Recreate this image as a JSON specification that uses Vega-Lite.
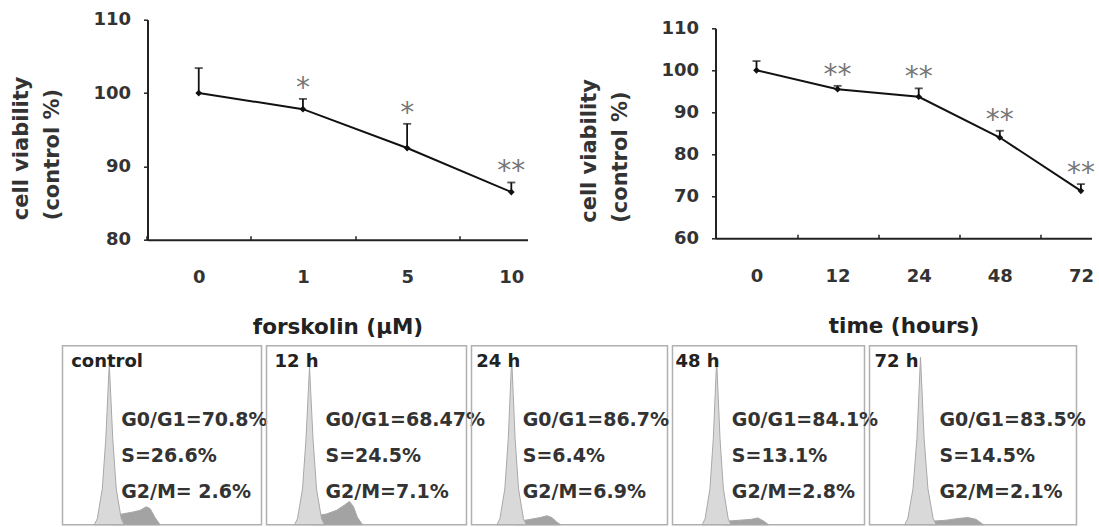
{
  "$schema": "https://vega.github.io/schema/vega-lite/v6.json",
  "background": "white",
  "padding": {"left": 9.5, "top": 9.7, "right": 0, "bottom": 0},
  "config": {"view": {"stroke": null}, "font": "DejaVu Sans"},
  "spacing": 6,
  "vconcat": [
    {
      "spacing": 0,
      "hconcat": [
        {"width": 1, "height": 1, "data": {"values": []}, "mark": "point"},
        {
          "spacing": 51,
          "hconcat": [
            {
              "spacing": 0,
              "vconcat": [
                {"width": 1, "height": 1, "data": {"values": []}, "mark": "point"},
                {
                  "width": 380,
                  "height": 220,
                  "data": {"values": [
                    {"dose": "0", "mean": 100, "upper": 103.4, "sig": ""},
                    {"dose": "1", "mean": 97.8, "upper": 99.2, "sig": "*"},
                    {"dose": "5", "mean": 92.5, "upper": 95.8, "sig": "*"},
                    {"dose": "10", "mean": 86.5, "upper": 87.8, "sig": "**"}
                  ]},
                  "encoding": {
                    "x": {"field": "dose", "type": "ordinal", "sort": null,
                      "scale": {"type": "point", "padding": 0.3235, "align": 0.76},
                      "axis": {"labelAngle": 0, "domainColor": "#222", "domainWidth": 2, "tickColor": "#222", "tickWidth": 1.5, "tickSize": -4, "tickOffset": -52.1, "labelOffset": 52.1,
                        "labelFont": "DejaVu Sans", "labelFontSize": 18, "labelFontWeight": "bold", "labelColor": "#333", "labelPadding": 33,
                        "title": "forskolin (µM)", "titleFont": "DejaVu Sans", "titleFontSize": 21.5, "titleFontWeight": "bold", "titleColor": "#222", "titlePadding": 30}},
                    "y": {"field": "mean", "type": "quantitative",
                      "scale": {"domain": [80, 110], "nice": false, "zero": false},
                      "axis": {"values": [80, 90, 100, 110], "grid": false, "domainColor": "#222", "domainWidth": 2, "tickColor": "#222", "tickWidth": 1.5, "tickSize": 4,
                        "labelFont": "DejaVu Sans", "labelFontSize": 18, "labelFontWeight": "bold", "labelColor": "#333", "labelPadding": 13,
                        "title": ["cell viability", "(control %)"], "titleFont": "DejaVu Sans", "titleFontSize": 21, "titleFontWeight": "bold", "titleColor": "#333",
                        "titleAngle": -90, "titleAlign": "left", "titleBaseline": "alphabetic", "titleX": -120, "titleY": 200, "titleLineHeight": 31}}
                  },
                  "layer": [
                    {"mark": {"type": "rule", "color": "#111", "strokeWidth": 1.8}, "encoding": {"y2": {"field": "upper"}}},
                    {"mark": {"type": "tick", "color": "#111", "size": 8, "thickness": 1.8}, "encoding": {"y": {"field": "upper", "type": "quantitative", "title": ["cell viability", "(control %)"]}}},
                    {"mark": {"type": "line", "color": "#111", "strokeWidth": 2}},
                    {"mark": {"type": "point", "shape": "diamond", "filled": true, "size": 45, "color": "#111", "opacity": 1}},
                    {"mark": {"type": "text", "font": "DejaVu Sans", "fontSize": 28, "color": "#777", "baseline": "alphabetic", "dy": -2}, "encoding": {"y": {"field": "upper", "type": "quantitative", "title": ["cell viability", "(control %)"]}, "text": {"field": "sig"}}}
                  ]
                }
              ]
            },
            {
              "spacing": 8.6,
              "vconcat": [
                {"width": 1, "height": 1, "data": {"values": []}, "mark": "point"},
                {
                  "width": 376,
                  "height": 210,
                  "data": {"values": [
                    {"time": "0", "mean": 100, "upper": 102.2, "sig": ""},
                    {"time": "12", "mean": 95.5, "upper": 96.3, "sig": "**"},
                    {"time": "24", "mean": 93.7, "upper": 95.7, "sig": "**"},
                    {"time": "48", "mean": 84.0, "upper": 85.6, "sig": "**"},
                    {"time": "72", "mean": 71.3, "upper": 72.9, "sig": "**"}
                  ]},
                  "encoding": {
                    "x": {"field": "time", "type": "ordinal", "sort": null,
                      "scale": {"type": "point", "padding": 0.318, "align": 0.795},
                      "axis": {"labelAngle": 0, "domainColor": "#222", "domainWidth": 2, "tickColor": "#222", "tickWidth": 1.5, "tickSize": -4, "tickOffset": -40.55, "labelOffset": 40.55,
                        "labelFont": "DejaVu Sans", "labelFontSize": 18, "labelFontWeight": "bold", "labelColor": "#333", "labelPadding": 33,
                        "title": "time (hours)", "titleFont": "DejaVu Sans", "titleFontSize": 21.5, "titleFontWeight": "bold", "titleColor": "#222", "titlePadding": 30}},
                    "y": {"field": "mean", "type": "quantitative",
                      "scale": {"domain": [60, 110], "nice": false, "zero": false},
                      "axis": {"values": [60, 70, 80, 90, 100, 110], "grid": false, "domainColor": "#222", "domainWidth": 2, "tickColor": "#222", "tickWidth": 1.5, "tickSize": 4,
                        "labelFont": "DejaVu Sans", "labelFontSize": 18, "labelFontWeight": "bold", "labelColor": "#333", "labelPadding": 13,
                        "title": ["cell viability", "(control %)"], "titleFont": "DejaVu Sans", "titleFontSize": 21, "titleFontWeight": "bold", "titleColor": "#333",
                        "titleAngle": -90, "titleAlign": "left", "titleBaseline": "alphabetic", "titleX": -120, "titleY": 194, "titleLineHeight": 31}}
                  },
                  "layer": [
                    {"mark": {"type": "rule", "color": "#111", "strokeWidth": 1.8}, "encoding": {"y2": {"field": "upper"}}},
                    {"mark": {"type": "tick", "color": "#111", "size": 8, "thickness": 1.8}, "encoding": {"y": {"field": "upper", "type": "quantitative", "title": ["cell viability", "(control %)"]}}},
                    {"mark": {"type": "line", "color": "#111", "strokeWidth": 2}},
                    {"mark": {"type": "point", "shape": "diamond", "filled": true, "size": 45, "color": "#111", "opacity": 1}},
                    {"mark": {"type": "text", "font": "DejaVu Sans", "fontSize": 28, "color": "#777", "baseline": "alphabetic", "dy": -2}, "encoding": {"y": {"field": "upper", "type": "quantitative", "title": ["cell viability", "(control %)"]}, "text": {"field": "sig"}}}
                  ]
                }
              ]
            }
          ]
        }
      ]
    },
    {
      "spacing": 5,
      "bounds": "flush",
      "resolve": {"scale": {"x": "independent", "y": "independent"}},
      "hconcat": [
        {"width": 48, "height": 179, "data": {"values": []}, "mark": "point"},
        {
          "width": 199, "height": 179,
          "view": {"stroke": "#b0b0b0", "strokeWidth": 1.5},
          "layer": [
            {"data": {"values": [
              {"phase": "S/G2", "ch": 50, "count": 0}, {"phase": "S/G2", "ch": 53, "count": 5}, {"phase": "S/G2", "ch": 60, "count": 6}, {"phase": "S/G2", "ch": 70, "count": 7}, {"phase": "S/G2", "ch": 78, "count": 8}, {"phase": "S/G2", "ch": 84, "count": 10}, {"phase": "S/G2", "ch": 88, "count": 9}, {"phase": "S/G2", "ch": 93, "count": 4}, {"phase": "S/G2", "ch": 98, "count": 0},
              {"phase": "G1", "ch": 32, "count": 0}, {"phase": "G1", "ch": 35, "count": 3.4}, {"phase": "G1", "ch": 40, "count": 20}, {"phase": "G1", "ch": 43.5, "count": 48}, {"phase": "G1", "ch": 47, "count": 90}, {"phase": "G1", "ch": 50.5, "count": 48}, {"phase": "G1", "ch": 54, "count": 20}, {"phase": "G1", "ch": 59, "count": 3.4}, {"phase": "G1", "ch": 62, "count": 0}
            ]},
              "mark": {"type": "area", "stroke": "#a8a8a8", "strokeWidth": 1, "opacity": 1},
              "encoding": {
                "x": {"field": "ch", "type": "quantitative", "scale": {"domain": [0, 200]}, "axis": null},
                "y": {"field": "count", "type": "quantitative", "scale": {"domain": [0, 100]}, "axis": null, "stack": null},
                "color": {"field": "phase", "type": "nominal", "scale": {"domain": ["G1", "S/G2"], "range": ["#d9d9d9", "#a3a3a3"]}, "legend": null}
              }},
            {"data": {"values": [{"label": "control"}]}, "mark": {"type": "text", "fontSize": 18, "fontWeight": "bold", "color": "#222", "align": "left", "baseline": "middle"},
              "encoding": {"x": {"datum": 8.7, "type": "quantitative"}, "y": {"datum": 90.8, "type": "quantitative"}, "text": {"field": "label"}}},
            {"data": {"values": [{"lines": ["G0/G1=70.8%", "S=26.6%", "G2/M= 2.6%"]}]}, "mark": {"type": "text", "fontSize": 19, "fontWeight": "bold", "color": "#333", "align": "left", "baseline": "middle", "lineHeight": 36},
              "encoding": {"x": {"datum": 59, "type": "quantitative"}, "y": {"datum": 58.7, "type": "quantitative"}, "text": {"field": "lines"}}}
          ]
        },
        {
          "width": 200, "height": 179,
          "view": {"stroke": "#b0b0b0", "strokeWidth": 1.5},
          "layer": [
            {"data": {"values": [
              {"phase": "S/G2", "ch": 46, "count": 0}, {"phase": "S/G2", "ch": 50, "count": 5}, {"phase": "S/G2", "ch": 60, "count": 6}, {"phase": "S/G2", "ch": 70, "count": 8}, {"phase": "S/G2", "ch": 78, "count": 11}, {"phase": "S/G2", "ch": 83, "count": 13}, {"phase": "S/G2", "ch": 87, "count": 10}, {"phase": "S/G2", "ch": 91, "count": 4}, {"phase": "S/G2", "ch": 96, "count": 0},
              {"phase": "G1", "ch": 28, "count": 0}, {"phase": "G1", "ch": 31, "count": 3.4}, {"phase": "G1", "ch": 36, "count": 20}, {"phase": "G1", "ch": 39.5, "count": 48}, {"phase": "G1", "ch": 43, "count": 88}, {"phase": "G1", "ch": 46.5, "count": 48}, {"phase": "G1", "ch": 50, "count": 20}, {"phase": "G1", "ch": 55, "count": 3.4}, {"phase": "G1", "ch": 58, "count": 0}
            ]},
              "mark": {"type": "area", "stroke": "#a8a8a8", "strokeWidth": 1, "opacity": 1},
              "encoding": {
                "x": {"field": "ch", "type": "quantitative", "scale": {"domain": [0, 200]}, "axis": null},
                "y": {"field": "count", "type": "quantitative", "scale": {"domain": [0, 100]}, "axis": null, "stack": null},
                "color": {"field": "phase", "type": "nominal", "scale": {"domain": ["G1", "S/G2"], "range": ["#d9d9d9", "#a3a3a3"]}, "legend": null}
              }},
            {"data": {"values": [{"label": "12 h"}]}, "mark": {"type": "text", "fontSize": 18, "fontWeight": "bold", "color": "#222", "align": "left", "baseline": "middle"},
              "encoding": {"x": {"datum": 8, "type": "quantitative"}, "y": {"datum": 90.8, "type": "quantitative"}, "text": {"field": "label"}}},
            {"data": {"values": [{"lines": ["G0/G1=68.47%", "S=24.5%", "G2/M=7.1%"]}]}, "mark": {"type": "text", "fontSize": 19, "fontWeight": "bold", "color": "#333", "align": "left", "baseline": "middle", "lineHeight": 36},
              "encoding": {"x": {"datum": 59, "type": "quantitative"}, "y": {"datum": 58.7, "type": "quantitative"}, "text": {"field": "lines"}}}
          ]
        },
        {
          "width": 196, "height": 179,
          "view": {"stroke": "#b0b0b0", "strokeWidth": 1.5},
          "layer": [
            {"data": {"values": [
              {"phase": "S/G2", "ch": 44, "count": 0}, {"phase": "S/G2", "ch": 50, "count": 2}, {"phase": "S/G2", "ch": 60, "count": 3}, {"phase": "S/G2", "ch": 70, "count": 4}, {"phase": "S/G2", "ch": 77, "count": 5}, {"phase": "S/G2", "ch": 82, "count": 4}, {"phase": "S/G2", "ch": 87, "count": 1.5}, {"phase": "S/G2", "ch": 91, "count": 0},
              {"phase": "G1", "ch": 26, "count": 0}, {"phase": "G1", "ch": 29, "count": 3.4}, {"phase": "G1", "ch": 34, "count": 20}, {"phase": "G1", "ch": 37.5, "count": 48}, {"phase": "G1", "ch": 41, "count": 93}, {"phase": "G1", "ch": 44.5, "count": 48}, {"phase": "G1", "ch": 48, "count": 20}, {"phase": "G1", "ch": 53, "count": 3.4}, {"phase": "G1", "ch": 56, "count": 0}
            ]},
              "mark": {"type": "area", "stroke": "#a8a8a8", "strokeWidth": 1, "opacity": 1},
              "encoding": {
                "x": {"field": "ch", "type": "quantitative", "scale": {"domain": [0, 200]}, "axis": null},
                "y": {"field": "count", "type": "quantitative", "scale": {"domain": [0, 100]}, "axis": null, "stack": null},
                "color": {"field": "phase", "type": "nominal", "scale": {"domain": ["G1", "S/G2"], "range": ["#d9d9d9", "#a3a3a3"]}, "legend": null}
              }},
            {"data": {"values": [{"label": "24 h"}]}, "mark": {"type": "text", "fontSize": 18, "fontWeight": "bold", "color": "#222", "align": "left", "baseline": "middle"},
              "encoding": {"x": {"datum": 4.8, "type": "quantitative"}, "y": {"datum": 90.8, "type": "quantitative"}, "text": {"field": "label"}}},
            {"data": {"values": [{"lines": ["G0/G1=86.7%", "S=6.4%", "G2/M=6.9%"]}]}, "mark": {"type": "text", "fontSize": 19, "fontWeight": "bold", "color": "#333", "align": "left", "baseline": "middle", "lineHeight": 36},
              "encoding": {"x": {"datum": 52.3, "type": "quantitative"}, "y": {"datum": 58.7, "type": "quantitative"}, "text": {"field": "lines"}}}
          ]
        },
        {
          "width": 192, "height": 179,
          "view": {"stroke": "#b0b0b0", "strokeWidth": 1.5},
          "layer": [
            {"data": {"values": [
              {"phase": "S/G2", "ch": 52, "count": 0}, {"phase": "S/G2", "ch": 58, "count": 2}, {"phase": "S/G2", "ch": 70, "count": 2.5}, {"phase": "S/G2", "ch": 82, "count": 3}, {"phase": "S/G2", "ch": 89, "count": 3.8}, {"phase": "S/G2", "ch": 95, "count": 2}, {"phase": "S/G2", "ch": 100, "count": 0},
              {"phase": "G1", "ch": 31, "count": 0}, {"phase": "G1", "ch": 34, "count": 3.4}, {"phase": "G1", "ch": 39, "count": 20}, {"phase": "G1", "ch": 42.5, "count": 48}, {"phase": "G1", "ch": 46, "count": 92}, {"phase": "G1", "ch": 49.5, "count": 48}, {"phase": "G1", "ch": 53, "count": 20}, {"phase": "G1", "ch": 58, "count": 3.4}, {"phase": "G1", "ch": 61, "count": 0}
            ]},
              "mark": {"type": "area", "stroke": "#a8a8a8", "strokeWidth": 1, "opacity": 1},
              "encoding": {
                "x": {"field": "ch", "type": "quantitative", "scale": {"domain": [0, 200]}, "axis": null},
                "y": {"field": "count", "type": "quantitative", "scale": {"domain": [0, 100]}, "axis": null, "stack": null},
                "color": {"field": "phase", "type": "nominal", "scale": {"domain": ["G1", "S/G2"], "range": ["#d9d9d9", "#a3a3a3"]}, "legend": null}
              }},
            {"data": {"values": [{"label": "48 h"}]}, "mark": {"type": "text", "fontSize": 18, "fontWeight": "bold", "color": "#222", "align": "left", "baseline": "middle"},
              "encoding": {"x": {"datum": 3.1, "type": "quantitative"}, "y": {"datum": 90.8, "type": "quantitative"}, "text": {"field": "label"}}},
            {"data": {"values": [{"lines": ["G0/G1=84.1%", "S=13.1%", "G2/M=2.8%"]}]}, "mark": {"type": "text", "fontSize": 19, "fontWeight": "bold", "color": "#333", "align": "left", "baseline": "middle", "lineHeight": 36},
              "encoding": {"x": {"datum": 61.8, "type": "quantitative"}, "y": {"datum": 58.7, "type": "quantitative"}, "text": {"field": "lines"}}}
          ]
        },
        {
          "width": 207, "height": 179,
          "view": {"stroke": "#b0b0b0", "strokeWidth": 1.5},
          "layer": [
            {"data": {"values": [
              {"phase": "S/G2", "ch": 56, "count": 0}, {"phase": "S/G2", "ch": 62, "count": 2}, {"phase": "S/G2", "ch": 74, "count": 2.5}, {"phase": "S/G2", "ch": 86, "count": 3.5}, {"phase": "S/G2", "ch": 95, "count": 4}, {"phase": "S/G2", "ch": 103, "count": 3}, {"phase": "S/G2", "ch": 110, "count": 0},
              {"phase": "G1", "ch": 34, "count": 0}, {"phase": "G1", "ch": 37, "count": 3.4}, {"phase": "G1", "ch": 42, "count": 20}, {"phase": "G1", "ch": 45.8, "count": 48}, {"phase": "G1", "ch": 49.3, "count": 93.5}, {"phase": "G1", "ch": 52.8, "count": 48}, {"phase": "G1", "ch": 56.5, "count": 20}, {"phase": "G1", "ch": 61.5, "count": 3.4}, {"phase": "G1", "ch": 64.5, "count": 0}
            ]},
              "mark": {"type": "area", "stroke": "#a8a8a8", "strokeWidth": 1, "opacity": 1},
              "encoding": {
                "x": {"field": "ch", "type": "quantitative", "scale": {"domain": [0, 200]}, "axis": null},
                "y": {"field": "count", "type": "quantitative", "scale": {"domain": [0, 100]}, "axis": null, "stack": null},
                "color": {"field": "phase", "type": "nominal", "scale": {"domain": ["G1", "S/G2"], "range": ["#d9d9d9", "#a3a3a3"]}, "legend": null}
              }},
            {"data": {"values": [{"label": "72 h"}]}, "mark": {"type": "text", "fontSize": 18, "fontWeight": "bold", "color": "#222", "align": "left", "baseline": "middle"},
              "encoding": {"x": {"datum": 4.8, "type": "quantitative"}, "y": {"datum": 90.8, "type": "quantitative"}, "text": {"field": "label"}}},
            {"data": {"values": [{"lines": ["G0/G1=83.5%", "S=14.5%", "G2/M=2.1%"]}]}, "mark": {"type": "text", "fontSize": 19, "fontWeight": "bold", "color": "#333", "align": "left", "baseline": "middle", "lineHeight": 36},
              "encoding": {"x": {"datum": 67.6, "type": "quantitative"}, "y": {"datum": 58.7, "type": "quantitative"}, "text": {"field": "lines"}}}
          ]
        }
      ]
    }
  ]
}
